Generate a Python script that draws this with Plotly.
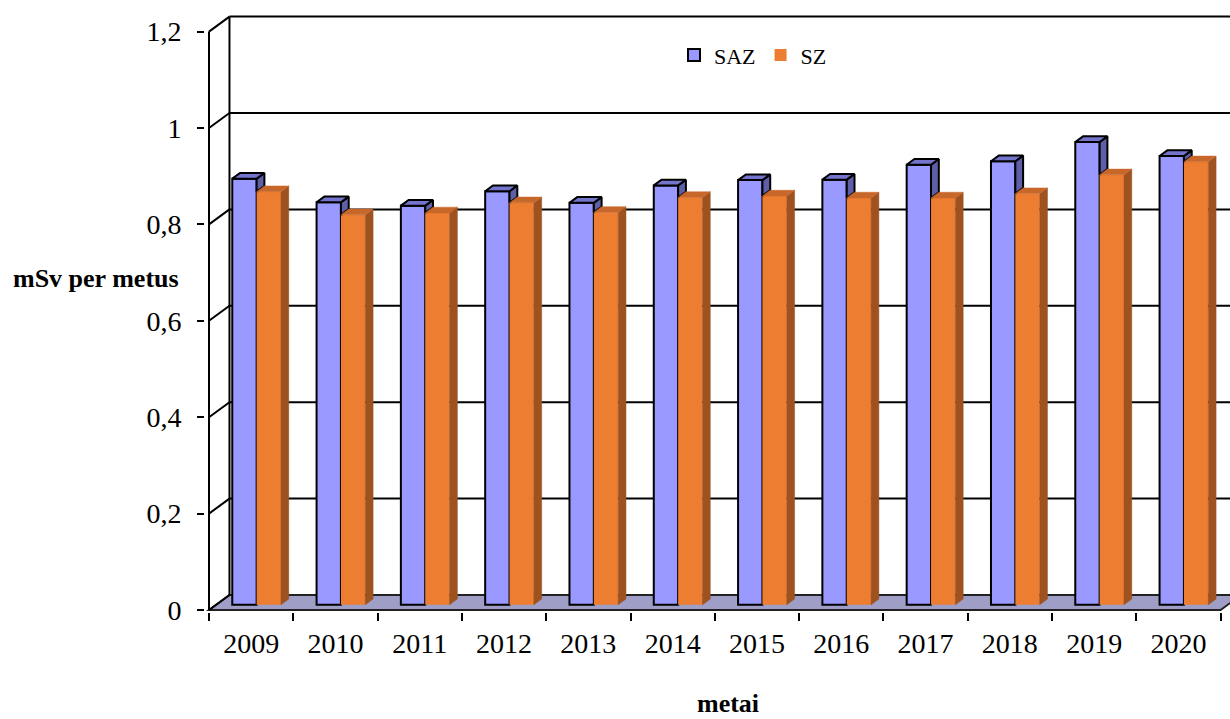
import plotly.graph_objects as go

# Annual effective dose, mSv per year
years = ["2009", "2010", "2011", "2012", "2013", "2014",
         "2015", "2016", "2017", "2018", "2019", "2020"]
saz = [0.884, 0.835, 0.828, 0.858, 0.834, 0.870, 0.881, 0.882, 0.913, 0.920, 0.960, 0.931]
sz = [0.857, 0.809, 0.813, 0.834, 0.814, 0.845, 0.848, 0.844, 0.844, 0.853, 0.892, 0.919]
y_ticks = [0, 0.2, 0.4, 0.6, 0.8, 1.0, 1.2]

FONT = "Liberation Serif, Times New Roman, serif"

# oblique projection of the chart box (depth expressed in data units)
DX, DY = 0.243, 0.0311          # full depth of floor / side wall
BAR_W = 0.289                   # width of one column
SHIFT = 0.065                   # horizontal shift of each column pair
BASE = 0.35 * DY                # columns stand a bit behind the front edge
BDX, BDY = 0.38 * DX, 0.38 * DY # column depth

X0 = -0.5
X1 = len(years) - 0.5
XR = (-0.5 - 4 / 84.3, -0.5 + 1021 / 84.3)
YR = (-2 / 482, 598 / 482)

saz_col = dict(front="#9999FF", top="#7474CC", side="#5F5FA8")
sz_col = dict(front="#ED7D31", top="#C8672A", side="#9E5220")


def poly(points_list):
    xs, ys = [], []
    for pts in points_list:
        for px, py in pts:
            xs.append(px)
            ys.append(py)
        xs.append(pts[0][0])
        ys.append(pts[0][1])
        xs.append(None)
        ys.append(None)
    return xs, ys


def top_face(xl, xr, v):
    h = BASE + v
    return [(xl, h), (xl + BDX, h + BDY), (xr + BDX, h + BDY), (xr, h)]


def side_face(xr, vlo, vhi):
    return [(xr, BASE + vlo), (xr + BDX, BASE + vlo + BDY),
            (xr + BDX, BASE + vhi + BDY), (xr, BASE + vhi)]


idx = list(range(len(years)))
saz_x = [i + SHIFT - BAR_W / 2 for i in idx]
sz_x = [i + SHIFT + BAR_W / 2 for i in idx]

fig = go.Figure()

fig.add_trace(go.Bar(
    name="SAZ", x=saz_x, y=saz, base=[BASE] * len(saz), width=BAR_W,
    marker=dict(color=saz_col["front"], line=dict(color="black", width=2)),
))
fig.add_trace(go.Bar(
    name="SZ", x=sz_x, y=sz, base=[BASE] * len(sz), width=BAR_W,
    marker=dict(color=sz_col["front"], line=dict(width=0)),
))

# depth faces of the SAZ columns (side part above the neighbouring SZ column)
saz_tops, saz_sides = [], []
for i in idx:
    xl, xr = i + SHIFT - BAR_W, i + SHIFT
    saz_tops.append(top_face(xl, xr, saz[i]))
    if saz[i] > sz[i]:
        saz_sides.append(side_face(xr, sz[i], saz[i]))

sz_tops, sz_sides = [], []
for i in idx:
    xl, xr = i + SHIFT, i + SHIFT + BAR_W
    sz_tops.append(top_face(xl, xr, sz[i]))
    sz_sides.append(side_face(xr, 0, sz[i]))

for faces, color, edge in [
    (saz_sides, saz_col["side"], dict(color="black", width=2)),
    (saz_tops, saz_col["top"], dict(color="black", width=2)),
    (sz_sides, sz_col["side"], dict(color=sz_col["side"], width=0.5)),
    (sz_tops, sz_col["top"], dict(color=sz_col["top"], width=0.5)),
]:
    fx, fy = poly(faces)
    fig.add_trace(go.Scatter(x=fx, y=fy, mode="lines", fill="toself",
                             fillcolor=color, line=edge, showlegend=False,
                             hoverinfo="skip"))

# walls and floor
shapes = []
path = "M " + " L ".join(f"{px},{py}" for px, py in [(X0, 0), (X0 + DX, DY),
                                                      (X1 + DX, DY), (X1, 0)]) + " Z"
shapes.append(dict(type="path", path=path, xref="x", yref="y", layer="below",
                   fillcolor="#9E9EC6", line=dict(color="#222222", width=2)))
line_style = dict(color="black", width=2)
shapes.append(dict(type="line", xref="x", yref="y", layer="below",
                   x0=X0, y0=0, x1=X0, y1=y_ticks[-1], line=line_style))
shapes.append(dict(type="line", xref="x", yref="y", layer="below",
                   x0=X0 + DX, y0=DY, x1=X0 + DX, y1=y_ticks[-1] + DY, line=line_style))
for v in y_ticks:
    shapes.append(dict(type="line", xref="x", yref="y", layer="below",
                       x0=X0, y0=v, x1=X0 + DX, y1=v + DY, line=line_style))
    if v > 0:
        shapes.append(dict(type="line", xref="x", yref="y", layer="below",
                           x0=X0 + DX, y0=v + DY, x1=XR[1] + 1, y1=v + DY,
                           line=line_style))

fig.update_layout(
    width=1230, height=719,
    margin=dict(l=205, r=0, t=12, b=107),
    paper_bgcolor="white", plot_bgcolor="white",
    separators=", ",
    barmode="overlay",
    font=dict(family=FONT, color="black"),
    shapes=shapes,
    showlegend=True,
    legend=dict(orientation="h", x=(674 - 205) / 1025, y=0.928, xanchor="left",
                yanchor="middle", font=dict(family=FONT, size=22),
                bgcolor="rgba(0,0,0,0)", traceorder="normal"),
    xaxis=dict(range=list(XR), tickvals=idx, ticktext=years, ticks="",
               showgrid=False, zeroline=False, showline=False,
               tickfont=dict(family=FONT, size=28),
               ticklabelstandoff=12,
               minor=dict(tickvals=[i - 0.5 for i in range(len(years) + 1)],
                          ticks="outside", ticklen=8, tickwidth=1.5,
                          tickcolor="black", showgrid=False)),
    yaxis=dict(range=list(YR), tickvals=y_ticks, ticks="outside", ticklen=7,
               tickwidth=1.5, tickcolor="black", showgrid=False,
               zeroline=False, showline=False,
               tickfont=dict(family=FONT, size=28), ticklabelstandoff=10),
    annotations=[
        dict(text="<b>mSv per metus</b>", xref="paper", yref="paper",
             x=(96 - 205) / 1025, y=(612 - 279) / 600, xanchor="center",
             yanchor="middle", showarrow=False,
             font=dict(family=FONT, size=26)),
        dict(text="<b>metai</b>", xref="paper", yref="paper",
             x=(728 - 205) / 1025, y=(612 - 703) / 600, xanchor="center",
             yanchor="middle", showarrow=False,
             font=dict(family=FONT, size=26)),
    ],
)

fig.write_html("out.html")
